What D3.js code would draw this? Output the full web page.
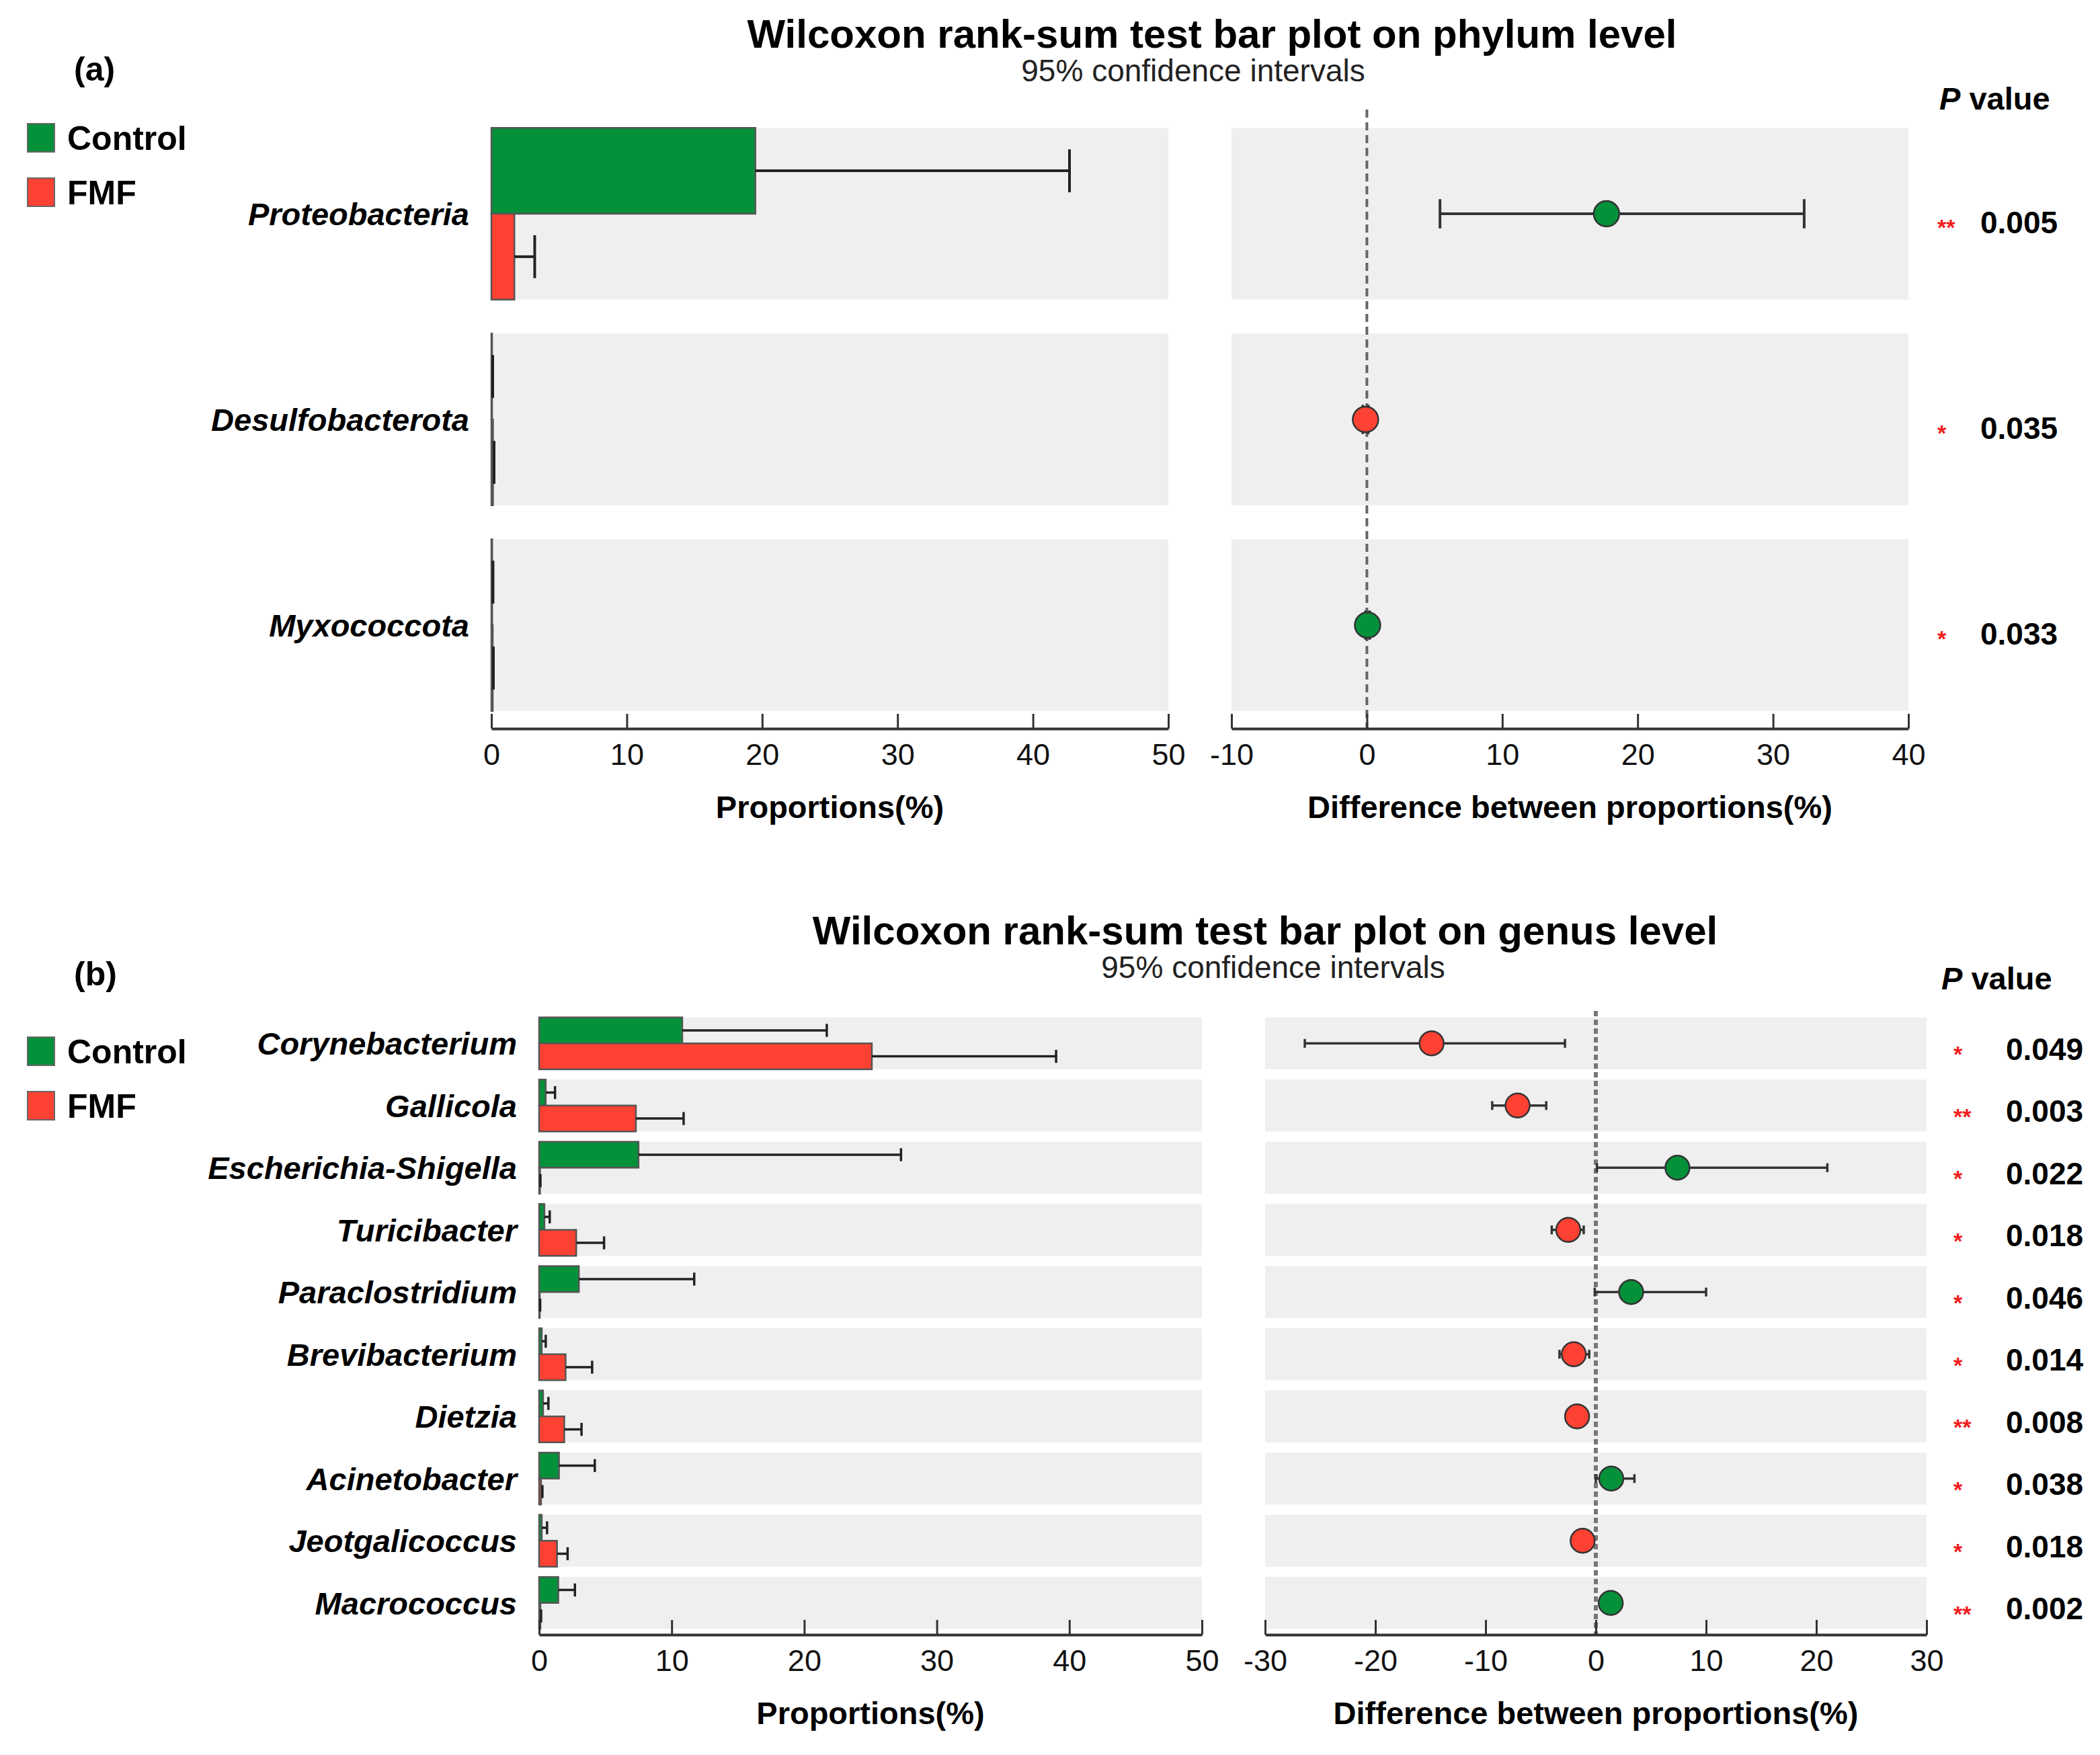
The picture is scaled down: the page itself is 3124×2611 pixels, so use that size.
<!DOCTYPE html>
<html>
<head>
<meta charset="utf-8">
<script src="https://cdn.jsdelivr.net/npm/d3@7"></script>
<style>
  body { margin: 0; background: #fff; }
  svg { display: block; font-family: "Liberation Sans", Arial, sans-serif; }
</style>
</head>
<body>
<div id="chart"></div>
<script>
// ---- phylum level (a) ----
const phyla = ['Proteobacteria', 'Desulfobacterota', 'Myxococcota'];
const phylaControl = [19.5, 0.05, 0.06];
const phylaControlErr = [42.7, 0.1, 0.12];
const phylaFMF = [1.7, 0.12, 0.1];
const phylaFMFErr = [3.2, 0.2, 0.15];
const phylaDiff = [17.7, -0.1, 0.05];
const phylaLow = [5.4, -0.3, -0.1];
const phylaHigh = [32.3, 0.1, 0.2];
const phylaP = ['0.005', '0.035', '0.033'];
const phylaStars = ['**', '*', '*'];

// ---- genus level (b) ----
const genera = ['Corynebacterium', 'Gallicola', 'Escherichia-Shigella', 'Turicibacter',
  'Paraclostridium', 'Brevibacterium', 'Dietzia', 'Acinetobacter', 'Jeotgalicoccus', 'Macrococcus'];
const generaControl = [10.8, 0.5, 7.5, 0.4, 3.0, 0.2, 0.3, 1.5, 0.2, 1.45];
const generaControlErr = [21.7, 1.2, 27.3, 0.8, 11.7, 0.5, 0.7, 4.2, 0.6, 2.7];
const generaFMF = [25.1, 7.3, 0.07, 2.8, 0.05, 2.0, 1.9, 0.15, 1.35, 0.1];
const generaFMFErr = [39.0, 10.9, 0.1, 4.9, 0.08, 4.0, 3.2, 0.25, 2.15, 0.15];
const generaDiff = [-14.9, -7.1, 7.4, -2.5, 3.2, -2.0, -1.7, 1.4, -1.2, 1.35];
const generaLow = [-26.4, -9.4, 0.1, -4.0, -0.1, -3.3, -2.4, 0.0, -1.7, 0.9];
const generaHigh = [-2.8, -4.5, 21.0, -1.1, 10.0, -0.6, -1.0, 3.5, -0.7, 1.8];
const generaP = ['0.049', '0.003', '0.022', '0.018', '0.046', '0.014', '0.008', '0.038', '0.018', '0.002'];
const generaStars = ['*', '**', '*', '*', '*', '*', '**', '*', '*', '**'];

const groups = ['Control', 'FMF'];
const propTicks = [0, 10, 20, 30, 40, 50];
const diffTicksA = [-10, 0, 10, 20, 30, 40];
const diffTicksB = [-30, -20, -10, 0, 10, 20, 30];

const GREEN = '#05903a';
const RED = '#fd4133';
const BAND = '#efefef';

const svg = d3.select('#chart').append('svg')
  .attr('width', 3124)
  .attr('height', 2611);

svg.append('rect').attr('width', 3124).attr('height', 2611).attr('fill', '#fff');

function drawAxis(g, scale, ticks, y, label) {
  const ax = g.append('g')
    .attr('transform', `translate(0,${y})`)
    .call(d3.axisBottom(scale)
      .tickValues(ticks)
      .tickFormat(d => String(d))
      .tickSizeInner(-22)
      .tickSizeOuter(0)
      .tickPadding(22));
  ax.select('.domain').attr('stroke', '#333').attr('stroke-width', 4);
  ax.selectAll('.tick line').attr('stroke', '#333').attr('stroke-width', 3);
  ax.selectAll('.tick text')
    .attr('font-size', 45)
    .attr('fill', '#111')
    .attr('font-family', '"Liberation Sans", Arial, sans-serif');
  const [r0, r1] = scale.range();
  g.append('text')
    .attr('x', (r0 + r1) / 2)
    .attr('y', y + 133)
    .attr('text-anchor', 'middle')
    .attr('font-size', 47)
    .attr('font-weight', 'bold')
    .text(label);
}

function drawPanel(cfg) {
  const g = svg.append('g');
  const rows = cfg.names.map((name, i) => ({
    name,
    control: cfg.control[i], controlErr: cfg.controlErr[i],
    fmf: cfg.fmf[i], fmfErr: cfg.fmfErr[i],
    diff: cfg.diff[i], low: cfg.low[i], high: cfg.high[i],
    p: cfg.p[i], stars: cfg.stars[i]
  }));

  const y = d3.scaleBand()
    .domain(cfg.names)
    .range(cfg.yRange)
    .paddingInner(0.165)
    .paddingOuter(0.0825);
  const bw = y.bandwidth();
  const xl = d3.scaleLinear().domain([0, 50]).range(cfg.leftRange);
  const xr = d3.scaleLinear().domain(cfg.diffDomain).range(cfg.rightRange);
  const axisY = cfg.yRange[1] + 1;

  // headings
  g.append('text')
    .attr('x', cfg.titleX).attr('y', cfg.titleY)
    .attr('text-anchor', 'middle')
    .attr('font-size', 60).attr('font-weight', 'bold')
    .text(cfg.title);
  g.append('text')
    .attr('x', cfg.subX).attr('y', cfg.titleY + 50)
    .attr('text-anchor', 'middle')
    .attr('font-size', 46)
    .attr('fill', '#222')
    .text('95% confidence intervals');
  g.append('text')
    .attr('x', 110).attr('y', cfg.tagY)
    .attr('font-size', 50).attr('font-weight', 'bold')
    .text(cfg.tag);

  // legend
  const legend = g.append('g');
  groups.forEach((name, i) => {
    legend.append('rect')
      .attr('x', 41).attr('y', cfg.legendY + i * 81)
      .attr('width', 40).attr('height', 42)
      .attr('fill', i === 0 ? GREEN : RED)
      .attr('stroke', '#666').attr('stroke-width', 2);
    legend.append('text')
      .attr('x', 100).attr('y', cfg.legendY + i * 81 + 39)
      .attr('font-size', 50).attr('font-weight', 'bold')
      .text(name);
  });

  // background bands
  g.selectAll('.band-l').data(rows).enter().append('rect')
    .attr('x', xl(0)).attr('width', xl(50) - xl(0))
    .attr('y', d => y(d.name)).attr('height', bw)
    .attr('fill', BAND);
  g.selectAll('.band-r').data(rows).enter().append('rect')
    .attr('x', xr.range()[0]).attr('width', xr.range()[1] - xr.range()[0])
    .attr('y', d => y(d.name)).attr('height', bw)
    .attr('fill', BAND);

  // category labels
  g.selectAll('.cat').data(rows).enter().append('text')
    .attr('x', xl(0) - 33)
    .attr('y', d => y(d.name) + bw / 2)
    .attr('dy', '0.36em')
    .attr('text-anchor', 'end')
    .attr('font-size', 47).attr('font-weight', 'bold').attr('font-style', 'italic')
    .text(d => d.name);

  // proportion bars with upper error bars
  const series = [
    { key: 'control', err: 'controlErr', color: GREEN, off: 0 },
    { key: 'fmf', err: 'fmfErr', color: RED, off: 1 }
  ];
  series.forEach(s => {
    const bars = g.append('g');
    bars.selectAll('rect').data(rows).enter().append('rect')
      .attr('x', xl(0))
      .attr('y', d => y(d.name) + s.off * bw / 2)
      .attr('width', d => xl(d[s.key]) - xl(0))
      .attr('height', bw / 2)
      .attr('fill', s.color)
      .attr('stroke', '#555').attr('stroke-width', 2.5);
    const cy = d => y(d.name) + s.off * bw / 2 + bw / 4;
    bars.selectAll('line.err').data(rows).enter().append('line')
      .attr('x1', d => xl(d[s.key])).attr('x2', d => xl(d[s.err]))
      .attr('y1', cy).attr('y2', cy)
      .attr('stroke', '#222').attr('stroke-width', cfg.errWidth);
    bars.selectAll('line.cap').data(rows).enter().append('line')
      .attr('x1', d => xl(d[s.err])).attr('x2', d => xl(d[s.err]))
      .attr('y1', d => cy(d) - bw / 8).attr('y2', d => cy(d) + bw / 8)
      .attr('stroke', '#222').attr('stroke-width', cfg.errWidth);
  });

  drawAxis(g, xl, propTicks, axisY, 'Proportions(%)');

  // zero reference line
  g.append('line')
    .attr('x1', xr(0)).attr('x2', xr(0))
    .attr('y1', cfg.yRange[0] - 2).attr('y2', axisY)
    .attr('stroke', cfg.dashColor).attr('stroke-width', cfg.dashWidth)
    .attr('stroke-dasharray', cfg.dash);

  // difference with confidence interval
  const mid = d => y(d.name) + bw / 2;
  const capH = bw * 0.085;
  const ci = g.append('g');
  ci.selectAll('line.ci').data(rows).enter().append('line')
    .attr('x1', d => xr(d.low)).attr('x2', d => xr(d.high))
    .attr('y1', mid).attr('y2', mid)
    .attr('stroke', '#333').attr('stroke-width', cfg.errWidth);
  ['low', 'high'].forEach(k => {
    ci.selectAll('line.' + k).data(rows).enter().append('line')
      .attr('x1', d => xr(d[k])).attr('x2', d => xr(d[k]))
      .attr('y1', d => mid(d) - capH).attr('y2', d => mid(d) + capH)
      .attr('stroke', '#333').attr('stroke-width', cfg.errWidth);
  });
  ci.selectAll('circle').data(rows).enter().append('circle')
    .attr('cx', d => xr(d.diff)).attr('cy', mid)
    .attr('r', cfg.dotR)
    .attr('fill', d => d.diff > 0 ? GREEN : RED)
    .attr('stroke', '#333').attr('stroke-width', 2.5);

  drawAxis(g, xr, cfg.diffTicks, axisY, 'Difference between proportions(%)');

  // p values
  const pHead = g.append('text')
    .attr('x', cfg.pHeadX).attr('y', cfg.pHeadY)
    .attr('font-size', 47).attr('font-weight', 'bold');
  pHead.append('tspan').attr('font-style', 'italic').text('P');
  pHead.append('tspan').text(' value');

  g.selectAll('.stars').data(rows).enter().append('text')
    .attr('x', cfg.starX)
    .attr('y', d => mid(d) + cfg.pOffset + 20)
    .attr('font-size', 34).attr('font-weight', 'bold')
    .attr('fill', '#f21d1d')
    .text(d => d.stars);
  g.selectAll('.pval').data(rows).enter().append('text')
    .attr('x', cfg.pX)
    .attr('y', d => mid(d) + cfg.pOffset)
    .attr('dy', '0.36em')
    .attr('font-size', 46).attr('font-weight', 'bold')
    .text(d => d.p);
}

drawPanel({
  names: phyla, control: phylaControl, controlErr: phylaControlErr,
  fmf: phylaFMF, fmfErr: phylaFMFErr, diff: phylaDiff, low: phylaLow, high: phylaHigh,
  p: phylaP, stars: phylaStars,
  title: 'Wilcoxon rank-sum test bar plot on phylum level',
  titleX: 1803, titleY: 71, subX: 1775, tag: '(a)', tagY: 120, legendY: 184,
  yRange: [165, 1083], leftRange: [731, 1738],
  diffDomain: [-10, 40], rightRange: [1832, 2839], diffTicks: diffTicksA,
  errWidth: 4, dashWidth: 4, dash: '12,7', dashColor: '#666', dotR: 19,
  pHeadX: 2885, pHeadY: 163, starX: 2882, pX: 2946, pOffset: 12
});

drawPanel({
  names: genera, control: generaControl, controlErr: generaControlErr,
  fmf: generaFMF, fmfErr: generaFMFErr, diff: generaDiff, low: generaLow, high: generaHigh,
  p: generaP, stars: generaStars,
  title: 'Wilcoxon rank-sum test bar plot on genus level',
  titleX: 1882, titleY: 1405, subX: 1894, tag: '(b)', tagY: 1466, legendY: 1543,
  yRange: [1506, 2431], leftRange: [802, 1788],
  diffDomain: [-30, 30], rightRange: [1882, 2866], diffTicks: diffTicksB,
  errWidth: 3.5, dashWidth: 6, dash: '8,5', dashColor: '#777', dotR: 18,
  pHeadX: 2888, pHeadY: 1472, starX: 2906, pX: 2984, pOffset: 8
});
</script>
</body>
</html>
